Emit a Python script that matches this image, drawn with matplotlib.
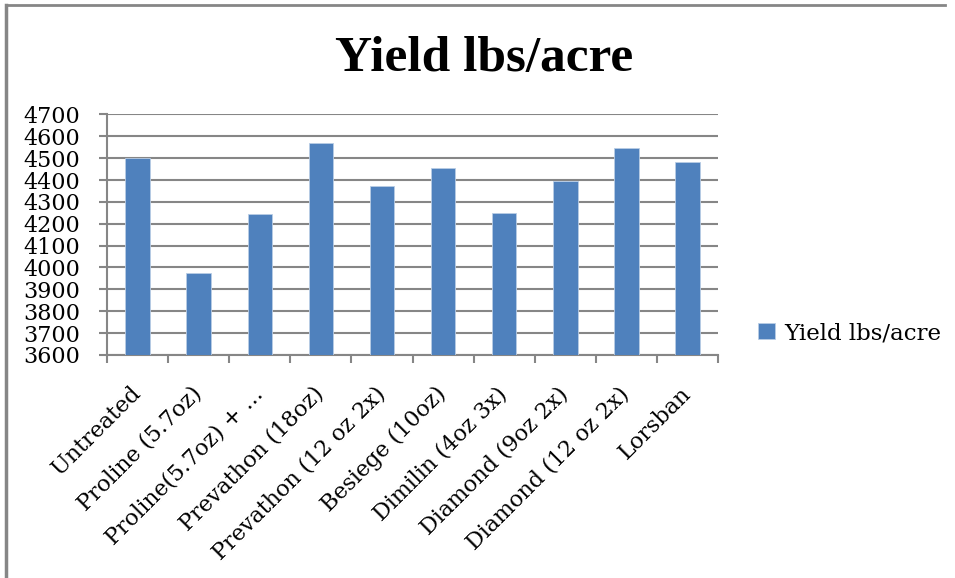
import matplotlib
matplotlib.use("Agg")
import matplotlib.pyplot as plt
import matplotlib.transforms as mtransforms
from matplotlib.lines import Line2D
import numpy as np

categories = ["Untreated", "Proline (5.7oz)", "Proline(5.7oz) + ...", "Prevathon (18oz)",
              "Prevathon (12 oz 2x)", "Besiege (10oz)", "Dimilin (4oz 3x)",
              "Diamond (9oz 2x)", "Diamond (12 oz 2x)", "Lorsban"]
yields = [4500, 3975, 4245, 4570, 4372, 4457, 4251, 4395, 4548, 4483]
y_ticks = list(range(3600, 4701, 100))
series_name = "Yield lbs/acre"

plt.rcParams["font.family"] = "DejaVu Serif"
grey = "#868686"
blue = "#4f81bd"

fig = plt.figure(figsize=(9.55, 5.78), dpi=100)
ax = fig.add_axes([0.112, 0.386, 0.64, 0.416])

x = np.arange(len(categories))
ax.bar(x, yields, width=0.4, color=blue, edgecolor="#b9cde5", linewidth=0.6,
       label=series_name, zorder=3)

ax.set_ylim(3600, 4700)
ax.set_xlim(-0.5, len(categories) - 0.5)
ax.set_yticks(y_ticks)
ax.yaxis.grid(True, color=grey, linewidth=1.5, zorder=0)

# category ticks sit between bars
ax.set_xticks(np.arange(-0.5, len(categories)), minor=False)
ax.set_xticklabels([])
ax.set_xticks(x, minor=True)
ax.set_xticklabels(categories, minor=True, rotation=45, ha="right",
                   va="top", rotation_mode="anchor", fontsize=16)
ax.tick_params(axis="x", which="minor", length=0, pad=20)
ax.tick_params(axis="x", which="major", length=6, width=1.5, color=grey)
ax.tick_params(axis="y", length=6, width=1.5, color=grey, pad=13, labelsize=16)

# nudge rotated labels left so they end under the bar centre
shift = mtransforms.ScaledTranslation(-0.08, 0, fig.dpi_scale_trans)
for lbl in ax.xaxis.get_minorticklabels():
    lbl.set_transform(lbl.get_transform() + shift)

for side in ["top", "right"]:
    ax.spines[side].set_visible(False)
for side in ["left", "bottom"]:
    ax.spines[side].set_color(grey)
    ax.spines[side].set_linewidth(1.5)

fig.text(0.507, 1 - 59 / 578, series_name, ha="center", va="center",
         fontsize=37, fontweight="bold", family="Liberation Serif")

fig.legend(loc="center left", bbox_to_anchor=(758 / 955, 1 - 333 / 578), frameon=False,
           fontsize=16.5, handlelength=0.75, handleheight=0.75, handletextpad=0.4,
           borderpad=0, borderaxespad=0)

# chart frame
fig.add_artist(Line2D([6 / 955, 6 / 955], [0, 1 - 5 / 578], color=grey, linewidth=2.5,
                      transform=fig.transFigure))
fig.add_artist(Line2D([6 / 955, 945 / 955], [1 - 5 / 578, 1 - 5 / 578], color=grey,
                      linewidth=2, transform=fig.transFigure))

fig.savefig("out.png", dpi=100)
